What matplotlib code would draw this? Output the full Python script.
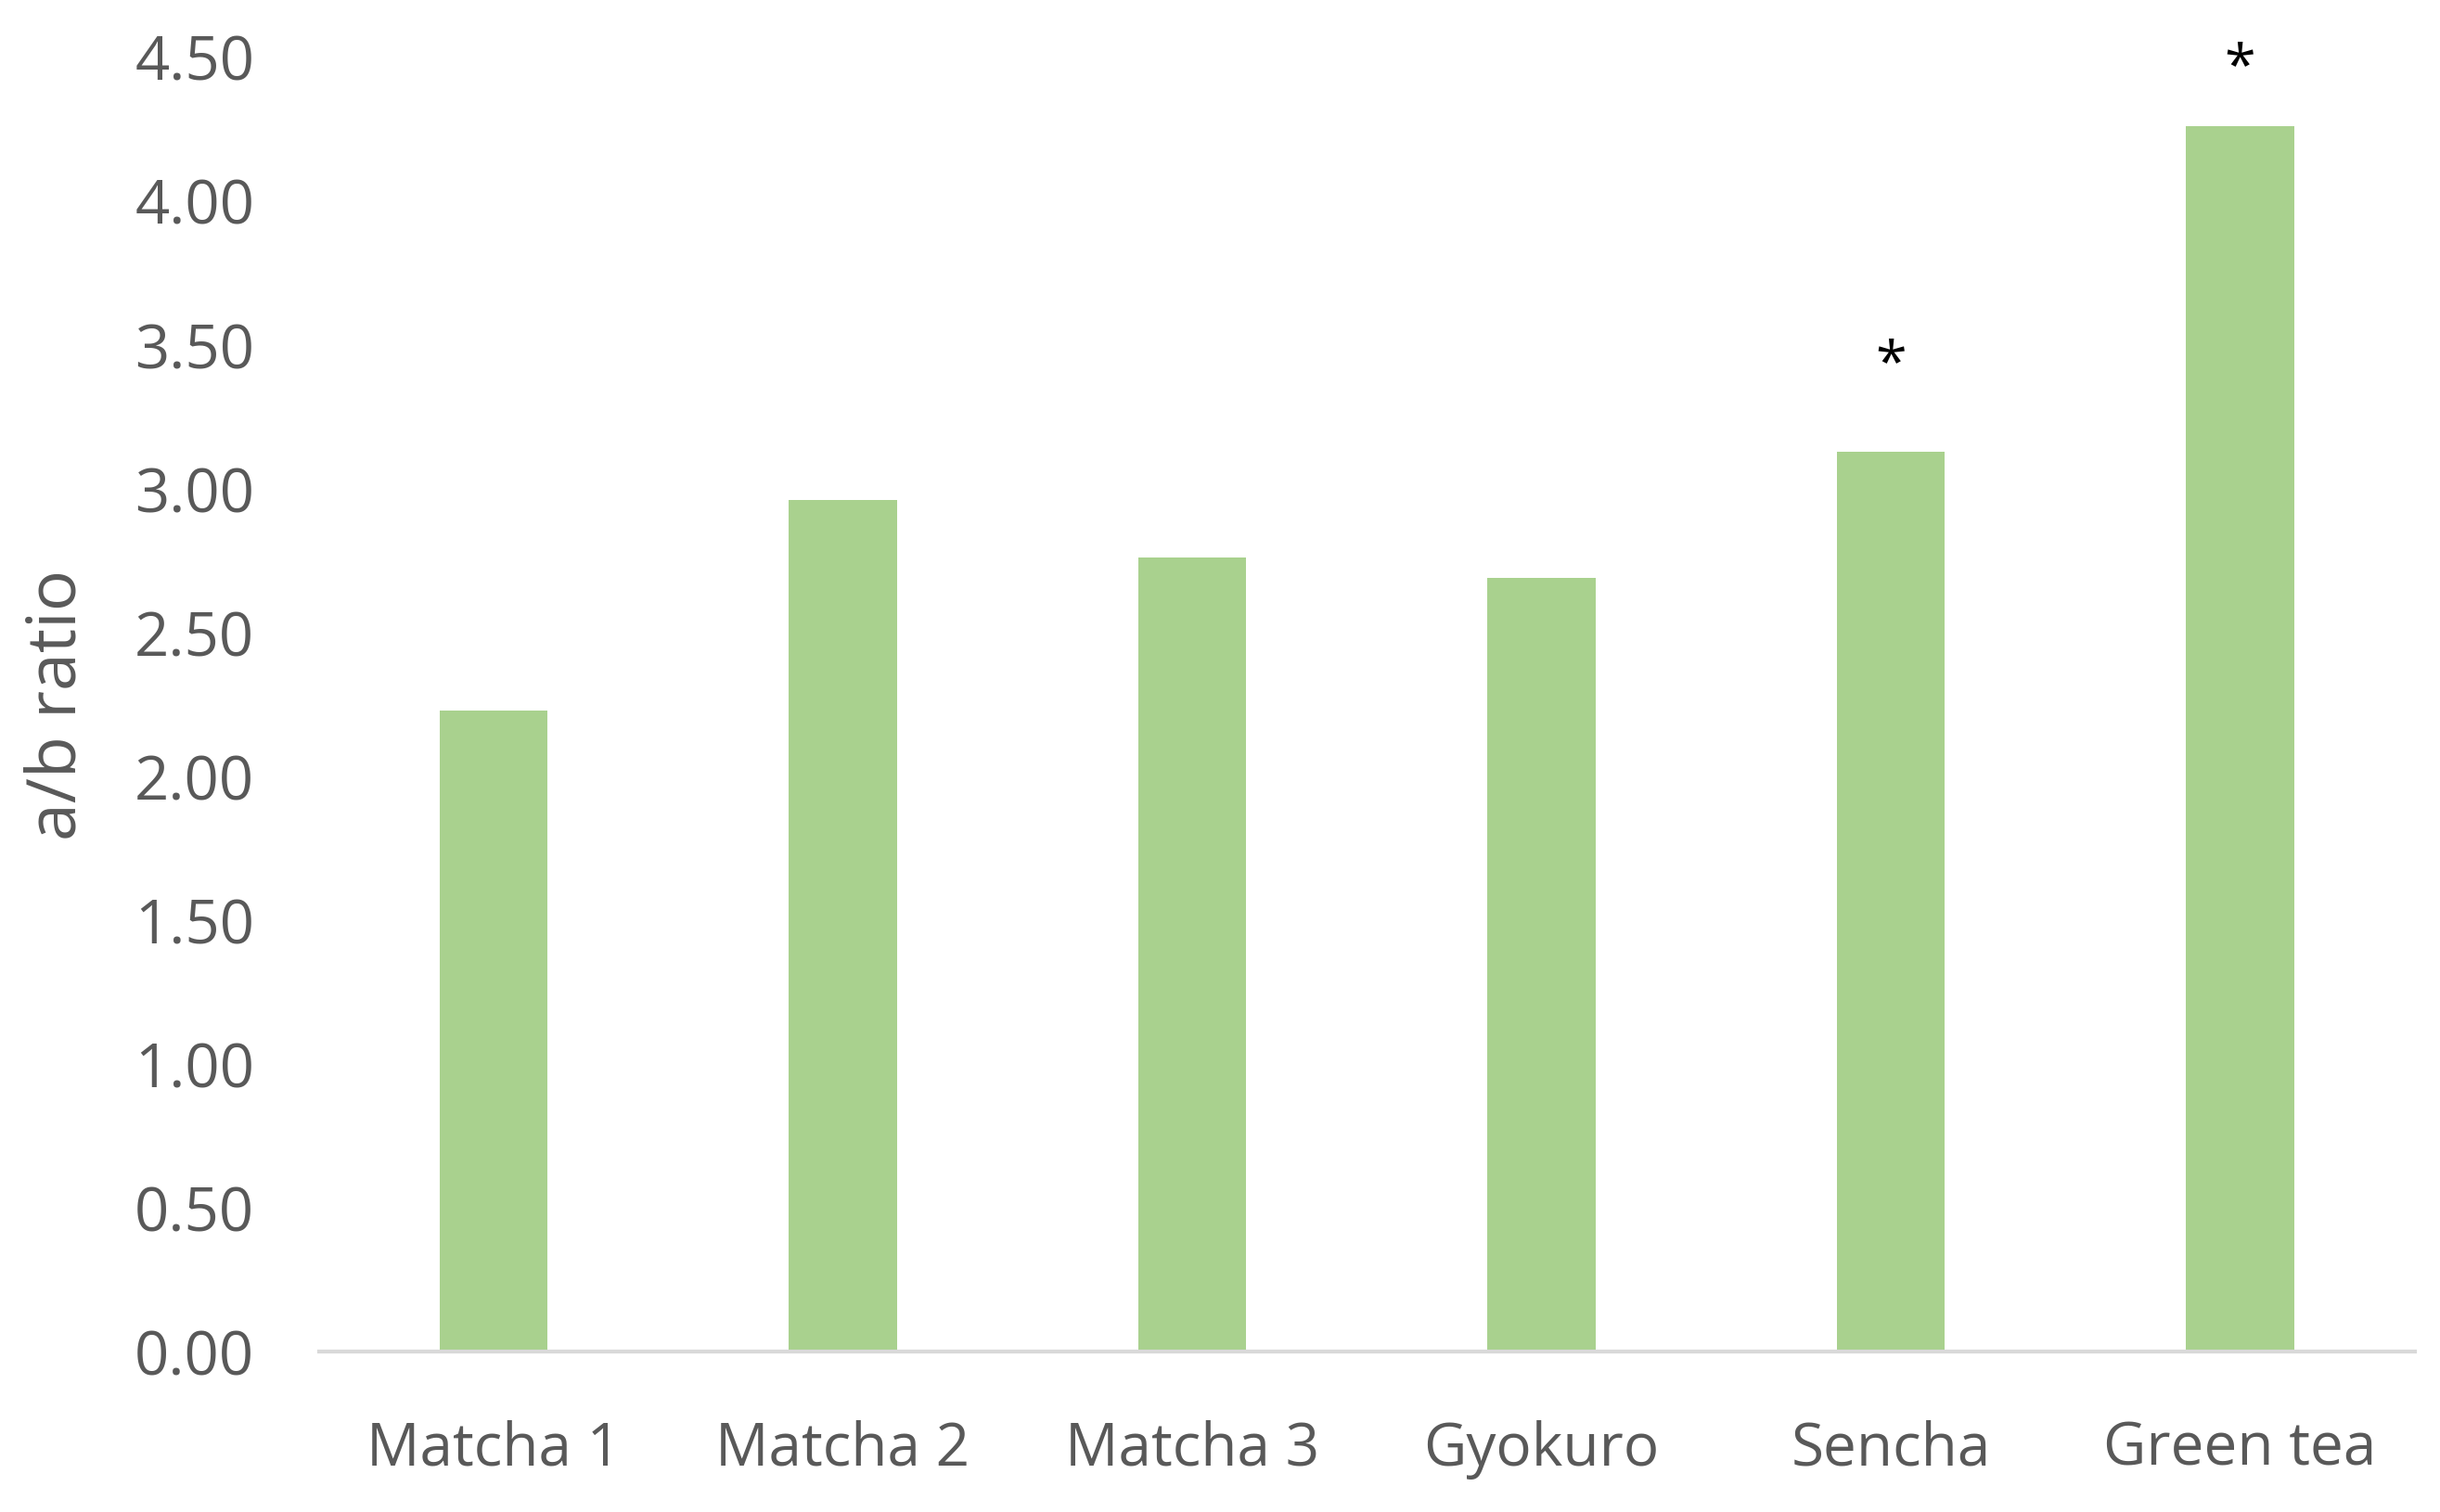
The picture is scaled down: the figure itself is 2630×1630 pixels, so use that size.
import numpy as np
import matplotlib
matplotlib.use('Agg')
import matplotlib.pyplot as plt

categories = ['Matcha 1', 'Matcha 2', 'Matcha 3', 'Gyokuro', 'Sencha', 'Green tea']
ratios = [2.23, 2.96, 2.76, 2.69, 3.13, 4.26]
# significance marks: (category index, y position of the star)
stars = [(4, 3.43), (5, 4.46)]
yticks = [0.0, 0.5, 1.0, 1.5, 2.0, 2.5, 3.0, 3.5, 4.0, 4.5]

plt.rcParams['font.family'] = ['Open Sans', 'DejaVu Sans']
grey = '#595959'

fig = plt.figure(figsize=(26.3, 16.3), dpi=100)
ax = fig.add_axes([0.1307, 0.106, 0.859, 0.856])

x = np.arange(len(categories))
ax.bar(x, ratios, width=0.31, color='#a9d18e', zorder=2)

for i, y in stars:
    ax.text(x[i], y, '*', ha='center', va='center', fontsize=44, color='black')

ax.set_xlim(-0.5, len(categories) - 0.5)
ax.set_ylim(0, 4.5)
ax.set_yticks(yticks)
ax.set_yticklabels(['%.2f' % v for v in yticks])
ax.set_xticks(x)
ax.set_xticklabels(categories)

for s in ['top', 'right', 'left']:
    ax.spines[s].set_visible(False)
ax.spines['bottom'].set_color('#d9d9d9')
ax.spines['bottom'].set_linewidth(3)

ax.tick_params(axis='y', length=0, pad=50, labelsize=47, labelcolor=grey)
ax.tick_params(axis='x', length=0, pad=53, labelsize=46, labelcolor=grey)

ax.set_ylabel('a/b ratio', fontsize=53, color=grey)
ax.yaxis.set_label_coords(-0.108, 0.5)

fig.savefig('out.png', dpi=100)
